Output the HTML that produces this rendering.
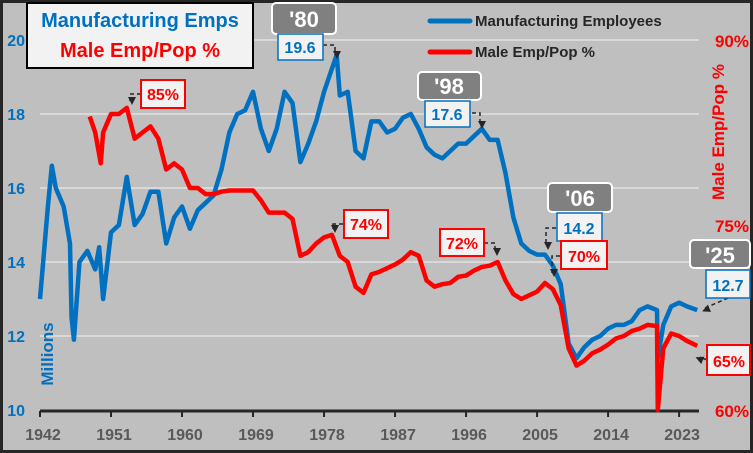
<!DOCTYPE html>
<html><head><meta charset="utf-8"><style>
body{margin:0;width:753px;height:453px;overflow:hidden;background:#bfbfbf;font-family:"Liberation Sans",sans-serif}
svg{display:block}
text{font-family:"Liberation Sans",sans-serif;font-weight:bold}
</style></head><body>
<svg id="chart" width="753" height="453" viewBox="0 0 753 453">
<rect x="1.5" y="1.5" width="750" height="450" fill="#bfbfbf" stroke="#262626" stroke-width="3"/>
<g id="grid"></g><g id="axes"></g><g id="series"></g><g id="ann"></g>
</svg>
<script>
const years=[1942,1943,1943.5,1944,1945,1945.8,1946,1946.3,1947,1948,1949,1949.5,1950,1951,1952,1953,1954,1955,1956,1957,1958,1959,1960,1961,1962,1963,1964,1965,1966,1967,1968,1969,1970,1971,1972,1973,1974,1975,1976,1977,1978,1979.6,1980,1981,1982,1983,1984,1985,1986,1987,1988,1989,1990,1991,1992,1993,1994,1995,1996,1997,1998,1999,2000,2001,2002,2003,2004,2005,2006,2007,2008,2009,2010,2011,2012,2013,2014,2015,2016,2017,2018,2019,2020.2,2020.3,2021,2022,2023,2024,2025.3];
const mfgValues=[13.0,15.5,16.6,16.0,15.5,14.5,12.5,11.9,14.0,14.3,13.8,14.4,13.0,14.8,15.0,16.3,15.0,15.3,15.9,15.9,14.5,15.2,15.5,14.9,15.4,15.6,15.8,16.5,17.5,18.0,18.1,18.6,17.6,17.0,17.6,18.6,18.3,16.7,17.2,17.8,18.6,19.6,18.5,18.6,17.0,16.8,17.8,17.8,17.5,17.6,17.9,18.0,17.6,17.1,16.9,16.8,17.0,17.2,17.2,17.4,17.6,17.3,17.3,16.4,15.2,14.5,14.3,14.2,14.2,13.9,13.4,11.8,11.4,11.7,11.9,12.0,12.2,12.3,12.3,12.4,12.7,12.8,12.7,11.4,12.3,12.8,12.9,12.8,12.7];
const popYears=[1948.3,1949,1949.7,1950,1951,1952,1953,1954,1955,1956,1957,1958,1959,1960,1961,1962,1963,1964,1965,1966,1967,1968,1969,1970,1971,1972,1973,1974,1975,1976,1977,1978,1979,1980,1981,1982,1983,1984,1985,1986,1987,1988,1989,1990,1991,1992,1993,1994,1995,1996,1997,1998,1999,2000,2001,2002,2003,2004,2005,2006,2007,2008,2009,2010,2011,2012,2013,2014,2015,2016,2017,2018,2019,2020.2,2020.3,2021,2022,2023,2024,2025.3];
const popValues=[83.8,82.5,80.0,82.5,84,84,84.5,82,82.5,83,82,79.5,80,79.5,78,78,77.5,77.5,77.7,77.8,77.8,77.8,77.8,77,76,76,76,75.5,72.5,72.8,73.5,74,74.2,72.5,72,70,69.5,71,71.2,71.5,71.8,72.2,72.8,72.5,70.5,70,70.2,70.3,70.8,70.9,71.3,71.6,71.7,72.0,70.5,69.4,69,69.3,69.6,70.3,69.8,68.5,65.0,63.6,64.0,64.6,64.9,65.3,65.8,66.0,66.4,66.6,66.9,66.8,60,65,66.2,66,65.6,65.2];
const leftTicks=[10,12,14,16,18,20];
const rightTicks=[60,75,90];
const xTicks=[1942,1951,1960,1969,1978,1987,1996,2005,2014,2023];
const NS="http://www.w3.org/2000/svg";
const X=y=>40+(y-1942)*7.89;
const YL=v=>410-(v-10)*37;
const YR=v=>410-(v-60)*12.333;
function el(tag,attrs,parent,txt){const e=document.createElementNS(NS,tag);for(const k in attrs)e.setAttribute(k,attrs[k]);if(txt!==undefined)e.textContent=txt;document.getElementById(parent).appendChild(e);return e;}
leftTicks.forEach(t=>{
  if(t>10){const g=el('line',{x1:40,x2:699,y1:YL(t),y2:YL(t),stroke:'#d9d9d9','stroke-width':2},'grid');
  
  }
  const l=el('text',{x:25,y:YL(t)+6,'text-anchor':'end','font-size':16,fill:'#0070c0'},'axes',String(t));
  
  
});
rightTicks.forEach(t=>{
  const l=el('text',{x:749,y:YR(t)+7,'text-anchor':'end','font-size':17,fill:'#ff0000'},'axes',t+'%');
  
  
});
const ax=el('line',{x1:40,x2:699,y1:411,y2:411,stroke:'#262626','stroke-width':3},'axes');


xTicks.forEach(t=>{
  const tk=el('line',{x1:X(t),x2:X(t),y1:411,y2:417,stroke:'#262626','stroke-width':2},'axes');
  
  
  const l=el('text',{x:X(t)+3,y:440,'text-anchor':'middle','font-size':16,fill:'#595959'},'axes',String(t));
  
  
});
const yt=el('text',{x:0,y:0,'font-size':17,fill:'#0070c0','text-anchor':'middle',transform:'translate(53,354) rotate(-90)'},'axes','Millions');


const rt=el('text',{x:0,y:0,'font-size':17,fill:'#ff0000','text-anchor':'middle',transform:'translate(724,132) rotate(-90)'},'axes','Male Emp/Pop %');


const pm=el('polyline',{points:years.map((y,i)=>X(y)+','+YL(mfgValues[i])).join(' '),fill:'none',stroke:'#0070c0','stroke-width':4.5,'stroke-linejoin':'round'},'series');


const pr=el('polyline',{points:popYears.map((y,i)=>X(y)+','+YR(popValues[i])).join(' '),fill:'none',stroke:'#ff0000','stroke-width':4.5,'stroke-linejoin':'round'},'series');


</script>
<svg style="position:absolute;left:0;top:0" width="753" height="453">
<defs><marker id="ar" markerWidth="8" markerHeight="8" refX="4" refY="6" orient="auto" markerUnits="userSpaceOnUse"><path d="M0,0 L8,4 L0,8 z" fill="#262626"/></marker></defs>
<g>
<rect x="27" y="3" width="226" height="65" fill="#f2f2f2" stroke="#000" stroke-width="2"/>
<text x="140" y="27" text-anchor="middle" font-size="20" fill="#0070c0">Manufacturing Emps</text>
<text x="140" y="57" text-anchor="middle" font-size="20" fill="#ff0000">Male Emp/Pop %</text>
</g>
<g>
<line x1="430" y1="21" x2="470" y2="21" stroke="#0070c0" stroke-width="5" stroke-linecap="round"/>
<text x="475" y="26" font-size="15" fill="#262626">Manufacturing Employees</text>
<line x1="430" y1="52" x2="470" y2="52" stroke="#ff0000" stroke-width="5" stroke-linecap="round"/>
<text x="475" y="57" font-size="15" fill="#262626">Male Emp/Pop %</text>
</g>
<g stroke-dasharray="4,3" stroke="#262626" stroke-width="1.5" fill="none">
<path d="M323,45 L335,45 L335,55" marker-end="url(#ar)"/>
<path d="M472,113 L480,113 L480,125" marker-end="url(#ar)"/>
<path d="M556,228 L546,228 L546,246" marker-end="url(#ar)"/>
<path d="M560,256 L552,256 L552,273" marker-end="url(#ar)"/>
<path d="M484,243 L495,243 L495,252" marker-end="url(#ar)"/>
<path d="M343,224 L333,224 L333,229" marker-end="url(#ar)"/>
<path d="M141,94 L130,94 L130,101" marker-end="url(#ar)"/>
<path d="M728,298 L705,308" marker-end="url(#ar)"/>
<path d="M707,360 L700,357" marker-end="url(#ar)"/>
</g>
<g><rect x="272" y="3" width="64" height="31" rx="4" fill="#808080" stroke="#fff" stroke-width="2"/><text x="304" y="27" text-anchor="middle" font-size="22" fill="#fff">'80</text>
<rect x="278" y="34" width="45" height="26" fill="#f2f2f2" stroke="#0070c0" stroke-width="1.5"/><text x="300" y="53" text-anchor="middle" font-size="16" fill="#0070c0">19.6</text></g>
<g><rect x="418" y="72" width="63" height="28" rx="4" fill="#808080" stroke="#fff" stroke-width="2"/><text x="449" y="94" text-anchor="middle" font-size="22" fill="#fff">'98</text>
<rect x="425" y="101" width="45" height="26" fill="#f2f2f2" stroke="#0070c0" stroke-width="1.5"/><text x="447" y="120" text-anchor="middle" font-size="16" fill="#0070c0">17.6</text></g>
<g><rect x="548" y="183" width="64" height="29" rx="4" fill="#808080" stroke="#fff" stroke-width="2"/><text x="580" y="206" text-anchor="middle" font-size="22" fill="#fff">'06</text>
<rect x="557" y="213" width="45" height="28" fill="#f2f2f2" stroke="#0070c0" stroke-width="1.5"/><text x="579" y="234" text-anchor="middle" font-size="16" fill="#0070c0">14.2</text>
<rect x="561" y="241" width="46" height="28" fill="#f2f2f2" stroke="#ff0000" stroke-width="2"/><text x="584" y="262" text-anchor="middle" font-size="16" fill="#ff0000">70%</text></g>
<g><rect x="440" y="229" width="44" height="27" fill="#f2f2f2" stroke="#ff0000" stroke-width="2"/><text x="462" y="249" text-anchor="middle" font-size="16" fill="#ff0000">72%</text></g>
<g><rect x="344" y="210" width="44" height="28" fill="#f2f2f2" stroke="#ff0000" stroke-width="2"/><text x="366" y="230" text-anchor="middle" font-size="16" fill="#ff0000">74%</text></g>
<g><rect x="141" y="80" width="44" height="28" fill="#f2f2f2" stroke="#ff0000" stroke-width="2"/><text x="163" y="100" text-anchor="middle" font-size="16" fill="#ff0000">85%</text></g>
<g><rect x="690" y="240" width="60" height="28" rx="4" fill="#808080" stroke="#fff" stroke-width="2"/><text x="720" y="263" text-anchor="middle" font-size="22" fill="#fff">'25</text>
<rect x="706" y="270" width="44" height="28" fill="#f2f2f2" stroke="#0070c0" stroke-width="1.5"/><text x="728" y="291" text-anchor="middle" font-size="16" fill="#0070c0">12.7</text>
<rect x="707" y="345" width="43" height="30" fill="#f2f2f2" stroke="#ff0000" stroke-width="2"/><text x="729" y="367" text-anchor="middle" font-size="16" fill="#ff0000">65%</text></g>
</svg>
</body></html>
